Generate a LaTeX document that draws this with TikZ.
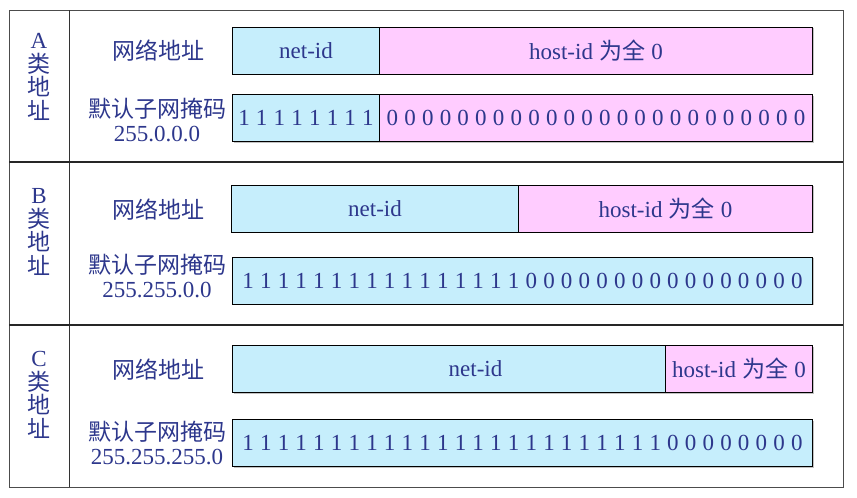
\documentclass[tikz,border=0pt]{standalone}
\usepackage{fontspec}
\setmainfont{Liberation Serif}
\newfontfamily\cjk{Noto Sans CJK SC}
\usepackage{tikz}
\usetikzlibrary{shadows}
\definecolor{netblue}{RGB}{198,238,252}
\definecolor{hostpink}{RGB}{255,204,255}
\definecolor{inkblue}{RGB}{45,55,140}
\newcommand{\zh}[1]{{\cjk #1}}
\newcommand{\bitfont}{\fontsize{23}{24}\selectfont\spaceskip=6.2pt\relax}
\tikzstyle{field}=[draw=black, line width=1pt, inner sep=0pt, minimum height=47pt, anchor=west, text=inkblue, font={\bitfont}, drop shadow={shadow xshift=1.2pt, shadow yshift=-1.2pt, fill=black!40, opacity=0.6}]
\tikzstyle{netfield}=[field, fill=netblue]
\tikzstyle{hostfield}=[field, fill=hostpink]
\tikzstyle{rowtext}=[text=inkblue, align=center, inner sep=0pt, font=\cjk\fontsize{23}{24}\selectfont]
\tikzstyle{classtext}=[text=inkblue, align=center, inner sep=0pt, font=\cjk\fontsize{23}{23.5}\selectfont]

\begin{document}
\begin{tikzpicture}[x=1pt, y=-1pt]
    \useasboundingbox (0,0) rectangle (857,498);
        % frame
        \draw[black!70, line width=1pt] (9,10) rectangle (843,487);
        \draw[black!80, line width=1pt] (69,10) -- (69,487);
        \draw[black!85, line width=1.5pt] (9,162) -- (843,162);
        \draw[black!85, line width=1.5pt] (9,325) -- (843,325);
        % class A
        \node[classtext]                          (Aclass)  at (39, 77)    {{\rmfamily A}\\类\\地\\址};
        \node[rowtext]                            (Anetlbl) at (158, 51)   {网络地址};
        \node[rowtext]                            (Amsklbl) at (157, 120)  {默认子网掩码\\{\rmfamily 255.0.0.0}};
        \node[netfield, minimum width=147pt]      (Anet)    at (232, 50.5) {net-id};
        \node[hostfield, minimum width=433pt]     (Ahost)   at (379, 50.5) {host-id \zh{为全} 0};
        \node[netfield, minimum width=147pt]      (Amsk1)   at (232, 118)  {1 1 1 1 1 1 1 1};
        \node[hostfield, minimum width=433pt]     (Amsk0)   at (379, 118)  {0 0 0 0 0 0 0 0 0 0 0 0 0 0 0 0 0 0 0 0 0 0 0 0};
        % class B
        \node[classtext]                          (Bclass)  at (39, 232)   {{\rmfamily B}\\类\\地\\址};
        \node[rowtext]                            (Bnetlbl) at (158, 210)  {网络地址};
        \node[rowtext]                            (Bmsklbl) at (157, 276)  {默认子网掩码\\{\rmfamily 255.255.0.0}};
        \node[netfield, minimum width=287pt]      (Bnet)    at (231, 208.5) {net-id};
        \node[hostfield, minimum width=294pt]     (Bhost)   at (518, 208.5) {host-id \zh{为全} 0};
        \node[netfield, minimum width=580pt]      (Bmsk)    at (232, 280.5) {1 1 1 1 1 1 1 1 1 1 1 1 1 1 1 1 0 0 0 0 0 0 0 0 0 0 0 0 0 0 0 0};
        % class C
        \node[classtext]                          (Cclass)  at (39, 395)   {{\rmfamily C}\\类\\地\\址};
        \node[rowtext]                            (Cnetlbl) at (158, 370)  {网络地址};
        \node[rowtext]                            (Cmsklbl) at (157, 443)  {默认子网掩码\\{\rmfamily 255.255.255.0}};
        \node[netfield, minimum width=433pt]      (Cnet)    at (232, 369)  {\hspace*{53pt}net-id};
        \node[hostfield, minimum width=147pt]     (Chost)   at (665, 369)  {host-id \zh{为全} 0};
        \node[netfield, minimum width=580pt]      (Cmsk)    at (232, 443)  {1 1 1 1 1 1 1 1 1 1 1 1 1 1 1 1 1 1 1 1 1 1 1 1 0 0 0 0 0 0 0 0};
\end{tikzpicture}
\end{document}
